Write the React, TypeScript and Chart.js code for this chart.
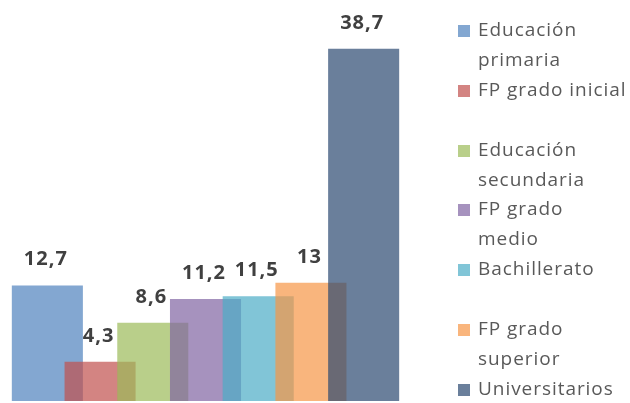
import React, { useEffect, useRef } from "react";
import { Chart, registerables } from "chart.js";

Chart.register(...registerables);

const categories = [
  "Educación primaria",
  "FP grado inicial",
  "Educación secundaria",
  "FP grado medio",
  "Bachillerato",
  "FP grado superior",
  "Universitarios",
];
const values = [12.7, 4.3, 8.6, 11.2, 11.5, 13, 38.7];
const valueLabels = ["12,7", "4,3", "8,6", "11,2", "11,5", "13", "38,7"];
const legendLines = [
  ["Educación", "primaria"],
  ["FP grado inicial"],
  ["Educación", "secundaria"],
  ["FP grado", "medio"],
  ["Bachillerato"],
  ["FP grado", "superior"],
  ["Universitarios"],
];
const colors = [
  "rgba(79,129,189,0.7)",
  "rgba(192,80,77,0.7)",
  "rgba(155,187,89,0.7)",
  "rgba(128,100,162,0.7)",
  "rgba(75,172,198,0.7)",
  "rgba(247,150,70,0.7)",
  "rgba(43,73,113,0.7)",
];

const labelPlugin = {
  id: "valueLabels",
  afterDatasetsDraw(chart: any) {
    const ctx = chart.ctx;
    ctx.save();
    ctx.font = 'bold 20px "Open Sans"';
    (ctx as any).letterSpacing = "1px";
    ctx.fillStyle = "#404040";
    ctx.textAlign = "center";
    ctx.textBaseline = "alphabetic";
    chart.data.datasets.forEach((_: any, i: number) => {
      const meta = chart.getDatasetMeta(i);
      const el = meta.data[i];
      if (!el) return;
      ctx.fillText(valueLabels[i], el.x - 1.5, el.y - 20);
    });
    ctx.restore();
  },
};

export default function App() {
  const ref = useRef<HTMLCanvasElement | null>(null);
  useEffect(() => {
    document.body.style.margin = "0";
    const chart = new Chart(ref.current as HTMLCanvasElement, {
      type: "bar",
      data: {
        labels: categories,
        datasets: categories.map((name, i) => ({
          label: name,
          data: categories.map((_, j) => (j === i ? values[i] : null)),
          backgroundColor: colors[i],
          borderWidth: 0,
          order: -i,
          clip: false as any,
        })),
      },
      options: {
        responsive: false,
        animation: false,
        layout: { padding: { left: 21, right: 240, top: 37, bottom: 2 } },
        datasets: {
          bar: { grouped: false, barPercentage: 1.348, categoryPercentage: 1 },
        },
        scales: {
          x: { display: false, offset: true },
          y: { display: false, min: 0, max: 40 },
        },
        plugins: {
          legend: { display: false },
          tooltip: { enabled: false },
        },
      },
      plugins: [labelPlugin],
    });
    return () => chart.destroy();
  }, []);

  return (
    <div style={{ position: "relative", width: 630, height: 403, background: "#fff", overflow: "hidden" }}>
      <canvas ref={ref} width={630} height={403} style={{ position: "absolute", left: 0, top: 0 }} />
      <div style={{ position: "absolute", left: 458, top: 15 }}>
        {legendLines.map((lines, i) => (
          <div key={i} style={{ position: "relative", height: 59.8 }}>
            <span
              style={{
                position: "absolute",
                left: 0,
                top: 10,
                width: 12,
                height: 12,
                background: colors[i],
              }}
            />
            <div
              style={{
                position: "absolute",
                left: 20,
                top: 0,
                lineHeight: "29.9px",
                fontSize: 19,
                letterSpacing: "0.95px",
                color: "#595959",
                fontFamily: '"Open Sans"',
                whiteSpace: "nowrap",
              }}
            >
              {lines.map((l, k) => (
                <div key={k}>{l}</div>
              ))}
            </div>
          </div>
        ))}
      </div>
    </div>
  );
}
